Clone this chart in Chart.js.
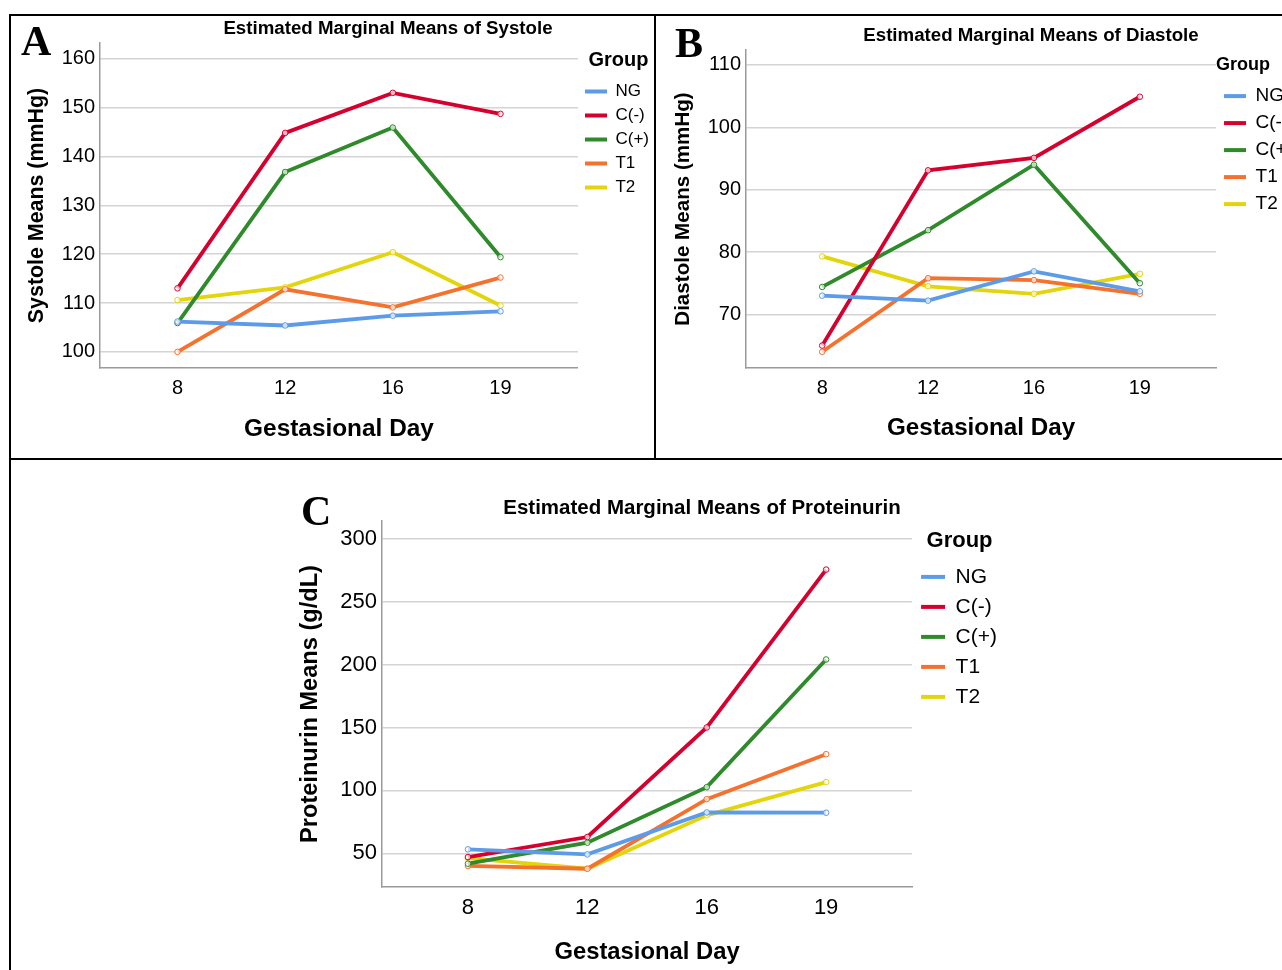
<!DOCTYPE html>
<html>
<head>
<meta charset="utf-8">
<script src="https://cdn.jsdelivr.net/npm/chart.js@4.4.1/dist/chart.umd.min.js"></script>
<style>
  html, body { margin: 0; padding: 0; background: #fff; width: 1282px; height: 970px; overflow: hidden; position: relative; font-family: "Liberation Sans", Arial, sans-serif; }
  canvas { position: absolute; }
  .rule { position: absolute; background: #000; }
  .letter { position: absolute; font-family: "Liberation Serif", "Times New Roman", serif; font-weight: bold; font-size: 42px; line-height: 1; }
  .title { position: absolute; font-weight: bold; font-size: 18.7px; white-space: nowrap; transform: translate(-50%, -50%); }
</style>
</head>
<body>
<div class="rule" style="left:9px;top:14px;width:2px;height:956px"></div>
<div class="rule" style="left:9px;top:14px;width:1273px;height:2px"></div>
<div class="rule" style="left:654px;top:14px;width:2px;height:445px"></div>
<div class="rule" style="left:9px;top:458px;width:1273px;height:2px"></div>

<canvas id="sys" width="647" height="407" style="left:12px;top:38px"></canvas>
<canvas id="dia" width="643" height="399" style="left:660px;top:45px"></canvas>
<canvas id="pro" width="717" height="452" style="left:290px;top:516px"></canvas>

<div class="letter" style="left:21px;top:20px">A</div>
<div class="letter" style="left:675px;top:22px">B</div>
<div class="letter" style="left:301px;top:490px">C</div>

<div class="title" style="left:388px;top:28px">Estimated Marginal Means of Systole</div>
<div class="title" style="left:1031px;top:35px">Estimated Marginal Means of Diastole</div>
<div class="title" style="left:702px;top:507px;font-size:20.5px">Estimated Marginal Means of Proteinurin</div>

<script>
const days = ['8', '12', '16', '19'];
const groups = ['NG', 'C(-)', 'C(+)', 'T1', 'T2'];
const groupColors = ['#5b9be8', '#d6002f', '#2e8a2a', '#f5712e', '#e3d50b'];

// systole (mmHg)
const ngSys = [106.2, 105.4, 107.4, 108.3];
const cnegSys = [113.0, 144.8, 153.0, 148.7];
const cposSys = [105.9, 136.8, 145.9, 119.4];
const t1Sys = [100.0, 112.8, 109.1, 115.2];
const t2Sys = [110.6, 113.2, 120.4, 109.5];
const sysTicks = [100, 110, 120, 130, 140, 150, 160];

// diastole (mmHg)
const ngDia = [73.0, 72.2, 76.9, 73.7];
const cnegDia = [65.0, 93.1, 95.1, 104.9];
const cposDia = [74.4, 83.5, 94.0, 75.0];
const t1Dia = [64.0, 75.8, 75.5, 73.3];
const t2Dia = [79.3, 74.5, 73.3, 76.5];
const diaTicks = [70, 80, 90, 100, 110];

// proteinurin (g/dL)
const ngPro = [53.2, 49.2, 82.5, 82.3];
const cnegPro = [47.1, 63.0, 150.0, 275.4];
const cposPro = [41.8, 58.5, 102.6, 204.0];
const t1Pro = [40.0, 37.8, 93.1, 128.8];
const t2Pro = [46.3, 37.8, 80.2, 106.6];
const proTicks = [50, 100, 150, 200, 250, 300];

Chart.defaults.font.family = '"Liberation Sans", Arial, sans-serif';
Chart.defaults.color = '#000';

function makeChart(id, rows, o) {
  return new Chart(document.getElementById(id), {
    type: 'line',
    data: {
      datasets: rows.map((vals, g) => ({
        label: groups[g],
        data: vals.map((v, i) => ({ x: i, y: v })),
        borderColor: groupColors[g],
        backgroundColor: groupColors[g],
        borderWidth: 3.8,
        pointRadius: 2.8,
        pointBorderWidth: 1,
        pointBackgroundColor: 'rgba(255,255,255,0.7)',
        pointBorderColor: groupColors[g],
        tension: 0
      }))
    },
    options: {
      responsive: false,
      animation: false,
      layout: { padding: 0 },
      scales: {
        x: {
          type: 'linear',
          min: -0.72,
          max: 3.72,
          afterBuildTicks: s => { s.ticks = days.map((d, i) => ({ value: i })); },
          afterFit: s => { s.height = o.xH; s.paddingLeft = 0; s.paddingRight = 0; },
          ticks: { callback: v => days[v], padding: 8, font: { size: o.tick }, maxRotation: 0, autoSkip: false },
          grid: { display: false, drawTicks: false },
          border: { color: '#9a9a9a', width: 1.5 },
          title: { display: true, text: 'Gestasional Day', font: { size: o.xt, weight: 'bold' }, padding: { top: 0, bottom: 1 } }
        },
        y: {
          min: o.yMin,
          max: o.yMax,
          afterBuildTicks: s => { s.ticks = o.yTicks.map(v => ({ value: v })); },
          afterFit: s => { s.width = o.yW; s.paddingTop = 0; s.paddingBottom = 0; },
          ticks: { padding: 5, font: { size: o.tick } },
          grid: { color: '#d4d4d4', lineWidth: 1.5, drawTicks: false },
          border: { color: '#9a9a9a', width: 1.5 },
          title: { display: true, text: o.yTitle, font: { size: o.yt, weight: 'bold' }, padding: { top: o.ytp, bottom: 0 } }
        }
      },
      plugins: {
        tooltip: { enabled: false },
        legend: {
          position: 'right',
          align: 'start',
          title: { display: true, text: 'Group', position: o.gpos, font: { size: o.gt, weight: 'bold' }, padding: { top: o.gpt, bottom: o.gpb } },
          labels: {
            boxWidth: o.bw,
            boxHeight: 4,
            padding: o.lp,
            font: { size: o.lf },
            generateLabels: chart => Chart.defaults.plugins.legend.labels.generateLabels(chart)
              .map(l => Object.assign(l, { lineWidth: 0, fillStyle: l.strokeStyle }))
          }
        }
      }
    }
  });
}

makeChart('sys', [ngSys, cnegSys, cposSys, t1Sys, t2Sys], {
  yMin: 96.7, yMax: 163.2, yTicks: sysTicks, yTitle: 'Systole Means (mmHg)',
  yW: 88, xH: 77, tick: 20, yt: 21.4, ytp: 12, xt: 24.4,
  gt: 20, gpos: 'center', gpt: 12, gpb: 2, lf: 17, lp: 7, bw: 22
});

makeChart('dia', [ngDia, cnegDia, cposDia, t1Dia, t2Dia], {
  yMin: 61.4, yMax: 112.4, yTicks: diaTicks, yTitle: 'Diastole Means (mmHg)',
  yW: 86, xH: 76, tick: 20, yt: 20.6, ytp: 11, xt: 24.2,
  gt: 18, gpos: 'start', gpt: 11, gpb: 1, lf: 19, lp: 8, bw: 22
});

makeChart('pro', [ngPro, cnegPro, cposPro, t1Pro, t2Pro], {
  yMin: 23.3, yMax: 314, yTicks: proTicks, yTitle: 'Proteinurin Means (g/dL)',
  yW: 92, xH: 81, tick: 22, yt: 23.6, ytp: 6, xt: 23.8,
  gt: 22, gpos: 'center', gpt: 14, gpb: 1, lf: 21, lp: 9, bw: 24
});
</script>
</body>
</html>
